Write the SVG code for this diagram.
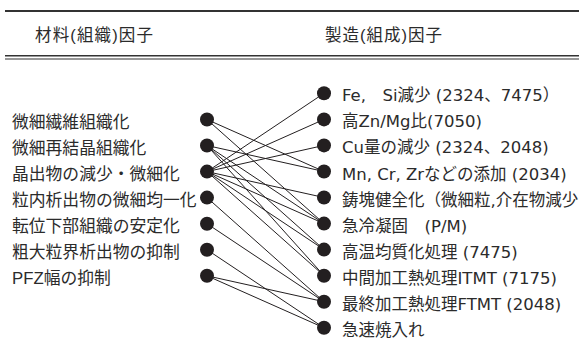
<svg xmlns="http://www.w3.org/2000/svg" width="579" height="360" viewBox="0 0 579 360">
<style>
.t{font-family:"Liberation Sans","Noto Sans CJK JP",sans-serif;fill:#2b2b2b}
.h{font-size:16.5px}
.l{font-size:16.8px}
.r{font-family:"DejaVu Sans","Noto Sans CJK JP",sans-serif;font-size:16.5px}
.rule{stroke:#333;fill:none}
.c line{stroke:#231f20;stroke-width:1}
.d{fill:#231f20}
</style>
<rect width="579" height="360" fill="#fff"/>
<g id="header">
<line class="rule" x1="5" y1="11" x2="579" y2="11" stroke-width="1.8"/>
<line class="rule" x1="5" y1="55.8" x2="579" y2="55.8" stroke-width="1.5"/>
<line class="rule" x1="5" y1="59" x2="579" y2="59" stroke-width="1.1"/>
<text class="t h" x="35" y="40.5" textLength="118" lengthAdjust="spacing">材料(組織)因子</text>
<text class="t h" x="325" y="40.5" textLength="117" lengthAdjust="spacing">製造(組成)因子</text>
</g>
<g id="connectors" class="c">
<line x1="207" y1="119.5" x2="324" y2="171.5"/>
<line x1="207" y1="119.5" x2="324" y2="223.6"/>
<line x1="207" y1="145.5" x2="324" y2="171.5"/>
<line x1="207" y1="145.5" x2="324" y2="223.6"/>
<line x1="207" y1="145.5" x2="324" y2="249.6"/>
<line x1="207" y1="145.5" x2="324" y2="275.7"/>
<line x1="207" y1="171.6" x2="324" y2="93.3"/>
<line x1="207" y1="171.6" x2="324" y2="119.4"/>
<line x1="207" y1="171.6" x2="324" y2="145.4"/>
<line x1="207" y1="171.6" x2="324" y2="197.5"/>
<line x1="207" y1="171.6" x2="324" y2="223.6"/>
<line x1="207" y1="171.6" x2="324" y2="249.6"/>
<line x1="207" y1="171.6" x2="324" y2="275.7"/>
<line x1="207" y1="197.6" x2="324" y2="301.7"/>
<line x1="207" y1="223.7" x2="324" y2="301.7"/>
<line x1="207" y1="249.7" x2="324" y2="327.8"/>
<line x1="207" y1="275.8" x2="324" y2="301.7"/>
<line x1="207" y1="275.8" x2="324" y2="327.8"/>
</g>
<g id="L1"><circle class="d" cx="207" cy="119.5" r="7"/><text class="t l" x="12" y="127.5">微細繊維組織化</text></g>
<g id="L2"><circle class="d" cx="207" cy="145.5" r="7"/><text class="t l" x="12" y="153.5">微細再結晶組織化</text></g>
<g id="L3"><circle class="d" cx="207" cy="171.6" r="7"/><text class="t l" x="12" y="179.6">晶出物の減少・微細化</text></g>
<g id="L4"><circle class="d" cx="207" cy="197.6" r="7"/><text class="t l" x="12" y="205.6">粒内析出物の微細均一化</text></g>
<g id="L5"><circle class="d" cx="207" cy="223.7" r="7"/><text class="t l" x="12" y="231.7">転位下部組織の安定化</text></g>
<g id="L6"><circle class="d" cx="207" cy="249.7" r="7"/><text class="t l" x="12" y="257.7">粗大粒界析出物の抑制</text></g>
<g id="L7"><circle class="d" cx="207" cy="275.8" r="7"/><text class="t l" x="12" y="283.8">PFZ幅の抑制</text></g>
<g id="R0"><circle class="d" cx="324" cy="93.3" r="7"/><text class="t r" x="342" y="101.3">Fe,　Si減少 (2324、7475）</text></g>
<g id="R1"><circle class="d" cx="324" cy="119.4" r="7"/><text class="t r" x="342" y="127.4">高Zn/Mg比(7050)</text></g>
<g id="R2"><circle class="d" cx="324" cy="145.4" r="7"/><text class="t r" x="342" y="153.4">Cu量の減少 (2324、2048)</text></g>
<g id="R3"><circle class="d" cx="324" cy="171.5" r="7"/><text class="t r" x="342" y="179.5">Mn, Cr, Zrなどの添加 (2034)</text></g>
<g id="R4"><circle class="d" cx="324" cy="197.5" r="7"/><text class="t r" x="342" y="205.5">鋳塊健全化（微細粒,介在物減少</text></g>
<g id="R5"><circle class="d" cx="324" cy="223.6" r="7"/><text class="t r" x="342" y="231.6">急冷凝固　(P/M)</text></g>
<g id="R6"><circle class="d" cx="324" cy="249.6" r="7"/><text class="t r" x="342" y="257.6">高温均質化処理 (7475)</text></g>
<g id="R7"><circle class="d" cx="324" cy="275.7" r="7"/><text class="t r" x="342" y="283.7">中間加工熱処理ITMT (7175)</text></g>
<g id="R8"><circle class="d" cx="324" cy="301.7" r="7"/><text class="t r" x="342" y="309.7">最終加工熱処理FTMT (2048)</text></g>
<g id="R9"><circle class="d" cx="324" cy="327.8" r="7"/><text class="t r" x="342" y="335.8">急速焼入れ</text></g>
</svg>
